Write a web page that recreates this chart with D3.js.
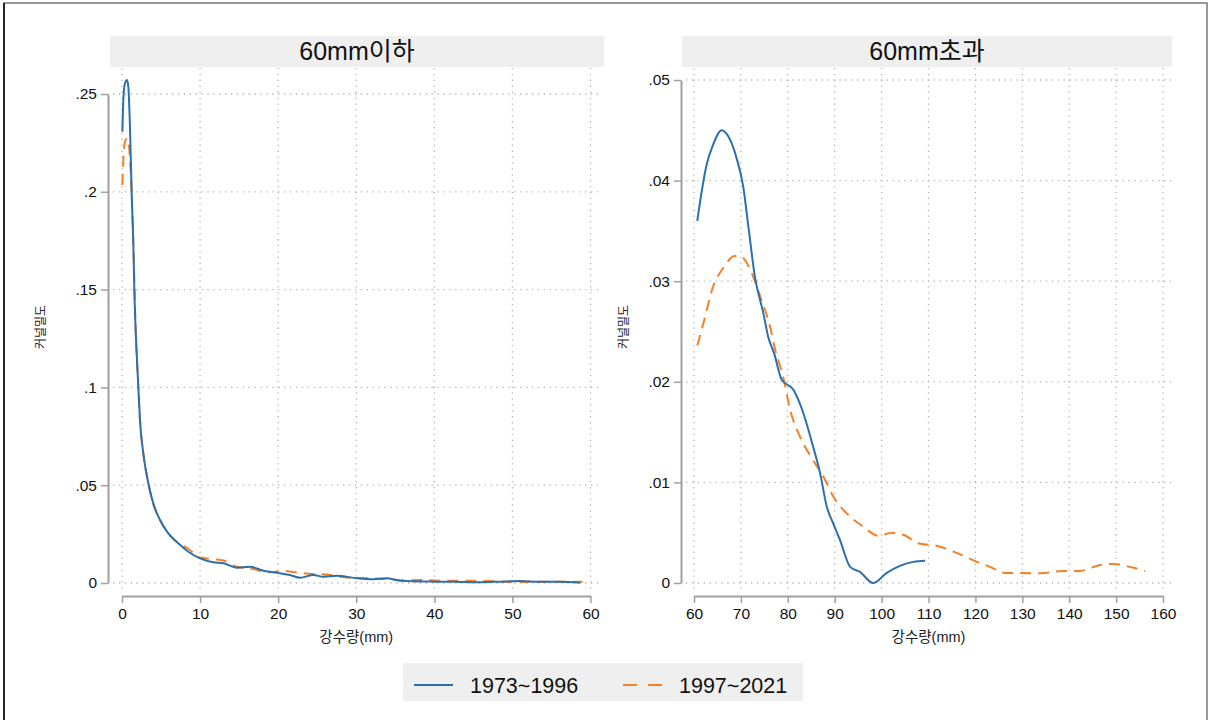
<!DOCTYPE html>
<html>
<head>
<meta charset="utf-8">
<script src="https://cdn.jsdelivr.net/npm/d3@7"></script>
<style>
  body { margin: 0; background: #fff; }
  text { font-family: "Liberation Sans", Arial, "Noto Sans CJK KR", sans-serif; }
</style>
</head>
<body>
<div id="chart"></div>
<script>
// panel titles and legend
var panelTitles = ["60mm이하", "60mm초과"];
var seriesNames = ["1973~1996", "1997~2021"];
var xTitle = "강수량(mm)";
var yTitle = "커널밀도";

// left panel ticks
var leftXTicks = [0, 10, 20, 30, 40, 50, 60];
var leftYTicks = [0, 0.05, 0.1, 0.15, 0.2, 0.25];
var leftYLabels = ["0", ".05", ".1", ".15", ".2", ".25"];

// right panel ticks
var rightXTicks = [60, 70, 80, 90, 100, 110, 120, 130, 140, 150, 160];
var rightYTicks = [0, 0.01, 0.02, 0.03, 0.04, 0.05];
var rightYLabels = ["0", ".01", ".02", ".03", ".04", ".05"];

// left panel, 1973~1996
var leftBlueX = [0.05, 0.17, 0.38, 0.64, 0.81, 1.02, 1.24, 1.45, 1.58, 1.75, 1.88, 2.09, 2.3, 2.73, 3.37, 4.0, 4.87, 5.93, 7.2, 8.5,
  10.0, 11.7, 13.0, 14.7, 16.4, 18.1, 20.2, 21.5, 22.8, 24.5, 25.8, 27.5, 30.1, 32.2, 33.9, 35.6, 39.9, 42.4, 45.8, 48.4, 51, 53.5, 56.1, 58.7];
var leftBlueY = [.2307, .247, .2555, .2572, .2537, .2333, .1992, .1737, .1498, .1293, .1174, .1004, .0833, .0663, .051, .0407, .0322, .0254, .0203, .016,
  .0126, .0106, .0101, .0078, .0083, .0063, .005, .0041, .0027, .0041, .0032, .0037, .0024, .0019, .0024, .0012, .0007, .0006, .0004, .0007, .001, .0006, .0006, .0001];

// left panel, 1997~2021
var leftOrangeX = [0.05, 0.17, 0.38, 0.64, 0.9, 1.15, 1.45, 1.75, 2.09, 2.3, 2.73, 3.37, 4.0, 4.87, 5.93, 7.2, 8.5, 10, 11.7, 13.0,
  14.7, 16.8, 18.6, 20.8, 22.1, 24.5, 26.2, 28.4, 31.4, 33.9, 36.4, 38.1, 40.7, 44.1, 47.5, 50.1, 52.6, 56, 59];
var leftOrangeY = [.2035, .2163, .2256, .2273, .2231, .2077, .1737, .1293, .1004, .0833, .0663, .051, .0407, .0322, .0254, .0205, .0175, .013, .0122, .0115,
  .0083, .0072, .0055, .0061, .0055, .0046, .0043, .0029, .0024, .0021, .0012, .0015, .0012, .0012, .0009, .0005, .0006, .0006, .0006];

// right panel, 1973~1996
var rightBlueX = [60.7, 61.6, 62.7, 64.1, 65.9, 67.3, 69.1, 70.5, 71.6, 73, 74.8, 75.8, 77.1, 78.7, 81.2, 83.3, 85.4, 86.9, 88.3, 89.7,
  91.1, 93.3, 95.4, 98.2, 101.1, 103.9, 106.8, 109.3];
var rightBlueY = [.036, .0388, .0416, .0436, .045, .0444, .0422, .0394, .0354, .0304, .0268, .0245, .0228, .0202, .0192, .0169, .01355, .0109, .0076, .0059,
  .0043, .0016, .0011, .0000, .001, .0017, .0021, .0022];

// right panel, 1997~2021
var rightOrangeX = [60.7, 62, 64.1, 66.2, 68.7, 70.2, 72.3, 74.1, 76.2, 77.3, 79, 80.5, 82.6, 85.4, 87.6, 89.7, 93.3, 96.1, 99.3, 102.2,
  104.6, 108.2, 111.7, 116, 120.3, 123.1, 126.3, 129.5, 133.8, 138.7, 142.3, 146.6, 149.4, 153, 156.2];
var rightOrangeY = [.0236, .0258, .0295, .0313, .0325, .0324, .0308, .0285, .0255, .0232, .0205, .0172, .01455, .0122, .01057, .0086, .0066, .0056, .0047, .005,
  .0048, .0039, .0037, .003, .0021, .0016, .001, .001, .00096, .0012, .0012, .0018, .0019, .0016, .0012];

var svgWidth = 1212;
var svgHeight = 720;
var blue = "#2b6fad";
var orange = "#f58025";
var axisGray = "#a0a0a0";

var svg = d3.select("#chart")
  .append("svg")
  .attr("width", svgWidth)
  .attr("height", svgHeight);

// outer frame
svg.append("rect")
  .attr("x", 4).attr("y", 3)
  .attr("width", 1203).attr("height", 740)
  .attr("fill", "none")
  .attr("stroke", "#777")
  .attr("stroke-width", 1.5);
svg.append("line")
  .attr("x1", 4).attr("x2", 4).attr("y1", 3).attr("y2", 720)
  .attr("stroke", "#000").attr("stroke-width", 1.5);

function zip(xs, ys) {
  return xs.map((x, i) => ({ x: x, y: ys[i] }));
}

// one panel: strip, grid, axes, two curves
function drawPanel(p) {
  var xScale = d3.scaleLinear().domain(p.xDomain).range(p.xRange);
  var yScale = d3.scaleLinear().domain(p.yDomain).range(p.yRange);

  // strip title
  svg.append("rect")
    .attr("x", p.strip[0]).attr("y", 36)
    .attr("width", p.strip[1] - p.strip[0]).attr("height", 31)
    .attr("fill", "#efefef");
  svg.append("text")
    .attr("x", (p.strip[0] + p.strip[1]) / 2)
    .attr("y", 60)
    .attr("text-anchor", "middle")
    .style("font-size", "25px")
    .attr("fill", "#111")
    .text(p.title);

  // dotted grid
  var grid = svg.append("g");
  grid.selectAll(".hg")
    .data(p.yTicks)
    .enter()
    .append("line")
    .attr("x1", p.plot[0]).attr("x2", p.plot[1])
    .attr("y1", d => yScale(d)).attr("y2", d => yScale(d))
    .attr("stroke", "#b5b5b5")
    .attr("stroke-width", 1.3)
    .attr("stroke-dasharray", "1.3,4.6");
  grid.selectAll(".vg")
    .data(p.xTicks)
    .enter()
    .append("line")
    .attr("x1", d => xScale(d)).attr("x2", d => xScale(d))
    .attr("y1", 68).attr("y2", 591)
    .attr("stroke", "#b5b5b5")
    .attr("stroke-width", 1.3)
    .attr("stroke-dasharray", "1.3,4.6");

  // axes
  var bottomAxis = d3.axisBottom(xScale)
    .tickValues(p.xTicks)
    .tickSizeOuter(0)
    .tickSizeInner(7)
    .tickPadding(5);
  var leftAxis = d3.axisLeft(yScale)
    .tickValues(p.yTicks)
    .tickFormat((d, i) => p.yLabels[i])
    .tickSizeOuter(0)
    .tickSizeInner(7)
    .tickPadding(4);

  var xg = svg.append("g")
    .attr("transform", `translate(0, 596)`)
    .call(bottomAxis);
  var yg = svg.append("g")
    .attr("transform", `translate(${p.yAxisX}, 0)`)
    .call(leftAxis);

  [xg, yg].forEach(function (g) {
    g.select(".domain").attr("stroke", axisGray).attr("stroke-width", 2);
    g.selectAll(".tick line").attr("stroke", axisGray).attr("stroke-width", 1.5);
    g.selectAll(".tick text")
      .style("font-size", "15.5px")
      .style("font-family", "'Liberation Sans', Arial, sans-serif")
      .attr("fill", "#111");
  });

  // axis titles
  svg.append("text")
    .attr("x", (p.xRange[0] + p.xRange[1]) / 2)
    .attr("y", 642)
    .attr("text-anchor", "middle")
    .style("font-size", "14.5px")
    .attr("fill", "#222")
    .text(xTitle);
  svg.append("text")
    .attr("transform", `translate(${p.yTitleX}, 327) rotate(-90)`)
    .attr("text-anchor", "middle")
    .style("font-size", "12px")
    .attr("fill", "#222")
    .text(yTitle);

  // curves
  var line = d3.line()
    .x(d => xScale(d.x))
    .y(d => yScale(d.y))
    .curve(d3.curveMonotoneX);

  svg.append("path")
    .datum(zip(p.orangeX, p.orangeY))
    .attr("d", line)
    .attr("fill", "none")
    .attr("stroke", orange)
    .attr("stroke-width", 2)
    .attr("stroke-dasharray", "11,7");

  svg.append("path")
    .datum(zip(p.blueX, p.blueY))
    .attr("d", line)
    .attr("fill", "none")
    .attr("stroke", blue)
    .attr("stroke-width", 2);
}

drawPanel({
  title: panelTitles[0],
  strip: [110, 604],
  plot: [113, 602],
  xDomain: [0, 60], xRange: [122, 590.5],
  yDomain: [0, 0.25], yRange: [583, 94],
  xTicks: leftXTicks, yTicks: leftYTicks, yLabels: leftYLabels,
  yAxisX: 108, yTitleX: 45,
  blueX: leftBlueX, blueY: leftBlueY,
  orangeX: leftOrangeX, orangeY: leftOrangeY
});

drawPanel({
  title: panelTitles[1],
  strip: [682, 1172],
  plot: [686, 1174],
  xDomain: [60, 160], xRange: [694, 1163],
  yDomain: [0, 0.05], yRange: [583, 80],
  xTicks: rightXTicks, yTicks: rightYTicks, yLabels: rightYLabels,
  yAxisX: 681, yTitleX: 628,
  blueX: rightBlueX, blueY: rightBlueY,
  orangeX: rightOrangeX, orangeY: rightOrangeY
});

// legend
var legend = svg.append("g");
legend.append("rect")
  .attr("x", 403).attr("y", 663)
  .attr("width", 400).attr("height", 38)
  .attr("fill", "#efefef");

var legendItems = legend.selectAll(".item")
  .data(seriesNames)
  .enter()
  .append("g")
  .attr("transform", (d, i) => `translate(${i === 0 ? 414 : 623}, 685)`);

legendItems.append("line")
  .attr("x1", 0).attr("x2", 39)
  .attr("y1", 0).attr("y2", 0)
  .attr("stroke", (d, i) => i === 0 ? blue : orange)
  .attr("stroke-width", 2)
  .attr("stroke-dasharray", (d, i) => i === 0 ? null : "14,11");

legendItems.append("text")
  .attr("x", 56)
  .attr("y", 7.5)
  .style("font-size", "21.5px")
  .attr("fill", "#111")
  .text(d => d);
</script>
</body>
</html>
